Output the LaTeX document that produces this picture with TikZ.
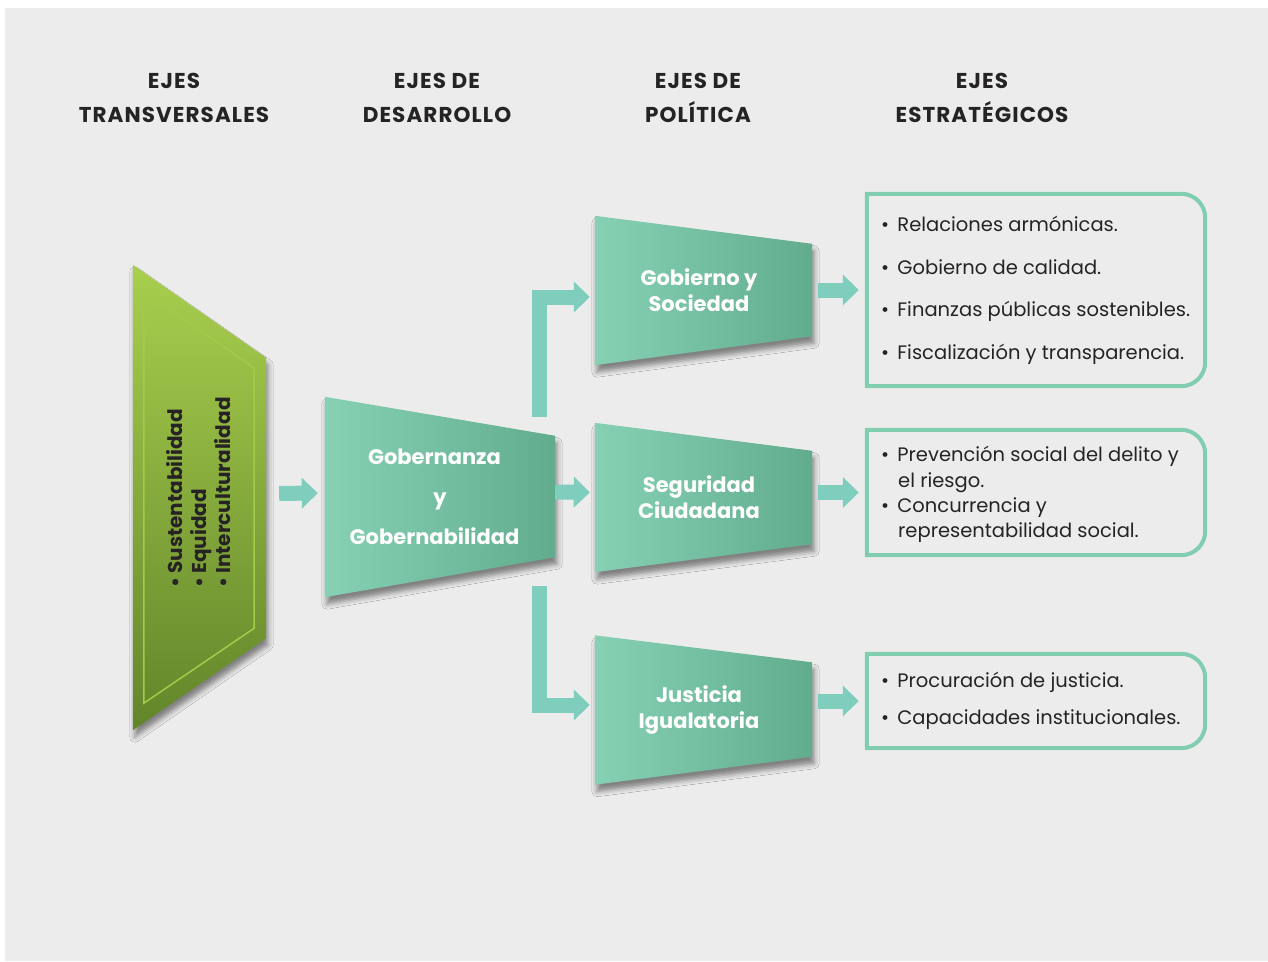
\documentclass[tikz,border=0pt]{standalone}
\usepackage{fontspec}
\setmainfont{Poppins}
\newfontfamily\headfont[LetterSpace=5]{Poppins}
\usetikzlibrary{arrows.meta, positioning, calc, backgrounds, shadows.blur}
\definecolor{bggray}{HTML}{ECECEC}
\definecolor{inkc}{HTML}{262324}
\definecolor{tealL}{HTML}{86D0B4}
\definecolor{tealD}{HTML}{62AC8E}
\definecolor{flowc}{HTML}{7FCDBD}
\definecolor{boxc}{HTML}{80CDB0}
\definecolor{greenL}{HTML}{A9CF4E}
\definecolor{greenD}{HTML}{62852A}
\definecolor{greenE}{HTML}{A2CB4A}
\tikzset{%
  head/.style={font=\headfont\bfseries\fontsize{21.5}{34}\selectfont, align=center, text=inkc},
  axisnode/.style={minimum width=217pt, minimum height=149pt, inner sep=0pt,
    text=white, align=center, font=\bfseries\fontsize{21}{26}\selectfont},
  itemtext/.style={anchor=base west, inner sep=0pt, text=inkc, font=\fontsize{19.5}{25}\selectfont},
  boxnode/.style={minimum width=338pt, inner sep=0pt},
  boxframe/.style={draw=boxc, line width=4pt},
  flow/.style={draw=flowc, line width=15pt, line join=miter, -{Triangle[width=30pt,length=16pt]}},
  tealshape/.style={left color=tealL, right color=tealD,
    blur shadow={shadow xshift=2pt, shadow yshift=-7pt, shadow blur radius=5pt, shadow opacity=45}},
  greenshape/.style={top color=greenL, bottom color=greenD,
    blur shadow={shadow xshift=2pt, shadow yshift=-7pt, shadow blur radius=5pt, shadow opacity=45}},
  greenedge/.style={draw=greenE, line width=1.5pt}
}
\newcommand{\bul}{\textbullet\hspace{0.42em}}
\begin{document}
\begin{tikzpicture}[x=1pt, y=-1pt]
  \useasboundingbox (0,0) rectangle (1268,961);

  % column heads
  \node[head] (h1) at (174,98) {EJES\\TRANSVERSALES};
  \node[head] (h2) at (437,98) {EJES DE\\DESARROLLO};
  \node[head] (h3) at (698,98) {EJES DE\\POLÍTICA};
  \node[head] (h4) at (982,98) {EJES\\ESTRATÉGICOS};

  % axes
  \node[minimum width=133pt, minimum height=465pt, inner sep=0pt] (tr) at (199.5,497.5) {};
  \node[rotate=90, anchor=west, align=left, inner sep=0pt, text=inkc,
    font=\bfseries\fontsize{20}{24}\selectfont] (trtext) at (199,588)
    {\textbullet\ Sustentabilidad\\\textbullet\ Equidad\\\textbullet\ Interculturalidad};

  \node[axisnode, minimum width=230pt, minimum height=200pt,
    font=\bfseries\fontsize{21}{40}\selectfont] (gob) at (440,497)
    {Gobernanza\hspace*{11pt}\\y\hspace*{11pt}\\Gobernabilidad\hspace*{11pt}};

  \node[axisnode] (gs) at (703.5,290.5) {Gobierno y\hspace*{9pt}\\Sociedad\hspace*{9pt}};
  \node[axisnode] (seg) at (703.5,497.5) {Seguridad\hspace*{9pt}\\Ciudadana\hspace*{9pt}};
  \node[axisnode] (ju) at (703.5,710) {Justicia\hspace*{9pt}\\Igualatoria\hspace*{9pt}};

  % strategic boxes
  \node[boxnode, minimum height=192pt] (b1) at (1036,290) {};
  \node[boxnode, minimum height=125pt] (b2) at (1036,492.5) {};
  \node[boxnode, minimum height=94pt] (b3) at (1036,701) {};

  \node[itemtext] (i1) at (881,231) {\bul Relaciones armónicas.};
  \node[itemtext] (i2) at (881,274) {\bul Gobierno de calidad.};
  \node[itemtext] (i3) at (881,316) {\bul Finanzas públicas sostenibles.};
  \node[itemtext] (i4) at (881,359) {\bul Fiscalización y transparencia.};

  \node[itemtext] (i5) at (881,461) {\bul Prevención social del delito y};
  \node[itemtext] (i5b) at (898,487) {el riesgo.};
  \node[itemtext] (i6) at (881,512) {\bul Concurrencia y};
  \node[itemtext] (i6b) at (898,537) {representabilidad social.};

  \node[itemtext] (i7) at (881,687) {\bul Procuración de justicia.};
  \node[itemtext] (i8) at (881,724) {\bul Capacidades institucionales.};

  % connectors
  \coordinate (up) at (539,417);
  \coordinate (dn) at (539,586);
  \draw[flow, shorten <=13pt, shorten >=7pt] ([yshift=4pt]tr.east) -- ([yshift=4pt]gob.west);
  \draw[flow, shorten >=5pt] ([yshift=5pt]gob.east) -- ([yshift=5pt]seg.west);
  \draw[flow, shorten >=5pt] (up) |- ([yshift=-6.5pt]gs.west);
  \draw[flow, shorten >=5pt] (dn) |- ([yshift=5pt]ju.west);
  \draw[flow, shorten <=6pt, shorten >=8pt] (b1.west -| gs.east) -- (b1.west);
  \draw[flow, shorten <=6pt, shorten >=8pt] (b2.west -| seg.east) -- (b2.west);
  \draw[flow, shorten <=6pt, shorten >=8pt] (b3.west -| ju.east) -- (b3.west);

  \begin{scope}[on background layer]
    \fill[bggray] (5,8) rectangle (1268,961);

    \path[greenshape] (tr.north west) -- ($(tr.north east)+(0,93)$)
      -- ($(tr.south east)+(0,-92)$) -- (tr.south west) -- cycle;
    \draw[greenedge] ($(tr.north west)+(11,26.7)$) -- ($(tr.north east)+(-12,103)$)
      -- ($(tr.south east)+(-12,-102)$) -- ($(tr.south west)+(11,-27)$) -- cycle;

    \path[tealshape] (gob.north west) -- ($(gob.north east)+(0,39)$)
      -- ($(gob.south east)+(0,-40)$) -- (gob.south west) -- cycle;
    \path[tealshape] (gs.north west) -- ($(gs.north east)+(0,28)$)
      -- ($(gs.south east)+(0,-29)$) -- (gs.south west) -- cycle;
    \path[tealshape] (seg.north west) -- ($(seg.north east)+(0,28)$)
      -- ($(seg.south east)+(0,-28)$) -- (seg.south west) -- cycle;
    \path[tealshape] (ju.north west) -- ($(ju.north east)+(0,27)$)
      -- ($(ju.south east)+(0,-28)$) -- (ju.south west) -- cycle;

    \draw[boxframe] (b1.north west) -- ([xshift=-24pt]b1.north east)
      arc[start angle=90, end angle=0, radius=24pt] -- ([yshift=24pt]b1.south east)
      arc[start angle=0, end angle=-90, radius=24pt] -- (b1.south west) -- cycle;
    \draw[boxframe] (b2.north west) -- ([xshift=-24pt]b2.north east)
      arc[start angle=90, end angle=0, radius=24pt] -- ([yshift=24pt]b2.south east)
      arc[start angle=0, end angle=-90, radius=24pt] -- (b2.south west) -- cycle;
    \draw[boxframe] (b3.north west) -- ([xshift=-24pt]b3.north east)
      arc[start angle=90, end angle=0, radius=24pt] -- ([yshift=24pt]b3.south east)
      arc[start angle=0, end angle=-90, radius=24pt] -- (b3.south west) -- cycle;
  \end{scope}
\end{tikzpicture}
\end{document}
